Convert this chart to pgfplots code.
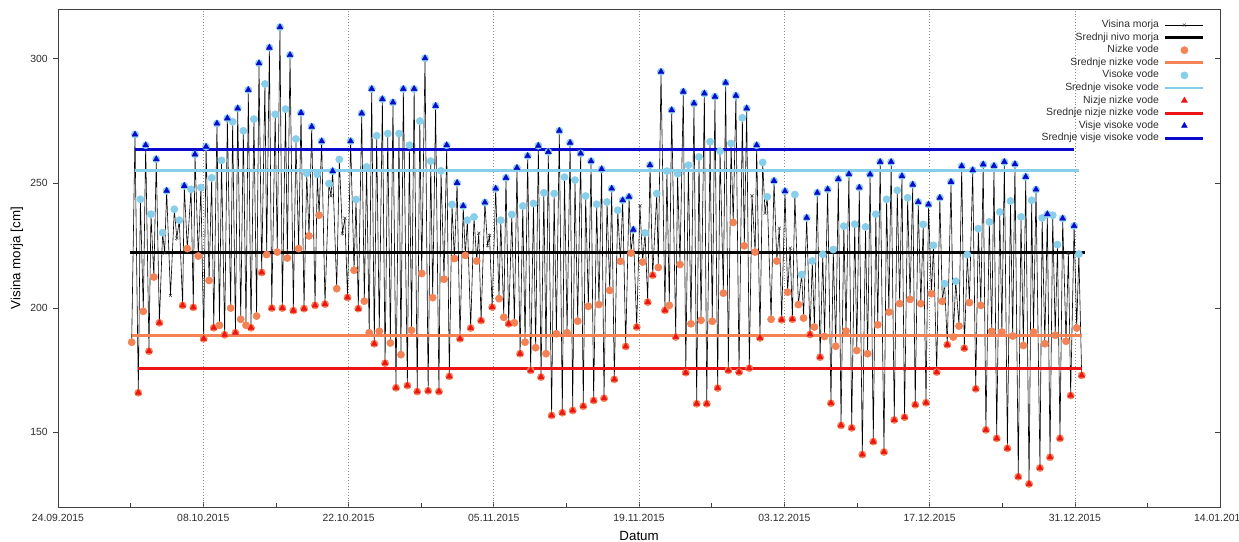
\documentclass[border=0pt]{standalone}
\usepackage{fontspec}
\setmainfont{Liberation Sans}
\usepackage{pgfplots}
\usepackage{pgfplotstable}
\pgfplotsset{compat=1.18}

\definecolor{nizke}{RGB}{243,130,85}
\definecolor{visoke}{RGB}{135,206,235}
\definecolor{nizje}{RGB}{236,20,20}
\definecolor{visje}{RGB}{10,10,205}
\definecolor{txt}{RGB}{45,45,45}
\newcommand{\fnt}{\fontsize{7.8}{9.4}\selectfont}

% Tidal extremes: t = days since 24.09.2015, h = height [cm],
% k = 1 higher high, 2 lower high, 3 higher low, 4 lower low, 0 unmarked turn
\pgfplotstableread{
t h k
7.10 186.2 3
7.42 269.6 1
7.74 165.9 4
7.94 243.6 2
8.22 198.6 3
8.45 265.3 1
8.77 182.6 4
8.96 237.6 2
9.24 212.4 3
9.47 259.7 1
9.77 194.0 4
10.08 230.2 2
10.28 222.0 0
10.47 247.0 1
10.84 205.0 0
11.21 239.6 2
11.45 228.0 0
11.69 235.2 2
12.01 201.0 4
12.17 249.0 1
12.46 223.8 3
12.82 247.6 2
13.04 200.2 4
13.20 261.6 1
13.52 220.8 3
13.77 248.3 2
14.04 187.6 4
14.27 264.7 1
14.56 211.0 3
14.81 252.2 2
15.01 192.0 4
15.32 274.0 1
15.56 193.0 3
15.76 259.2 2
16.06 189.2 4
16.32 276.1 1
16.64 199.9 3
16.83 274.7 2
17.10 190.0 4
17.32 280.1 1
17.61 195.4 3
17.86 271.1 2
18.12 193.0 3
18.34 287.5 1
18.60 192.0 4
18.88 275.8 2
19.14 196.7 3
19.37 298.2 1
19.63 214.2 4
19.94 289.9 2
20.11 221.4 3
20.37 304.5 1
20.60 199.9 4
20.93 277.7 2
21.13 222.4 3
21.39 312.7 1
21.62 199.9 4
21.93 279.8 2
22.10 220.0 3
22.36 301.5 1
22.68 198.9 4
22.93 267.8 2
23.19 223.8 3
23.42 278.3 1
23.71 199.7 4
23.97 254.0 2
24.19 228.9 3
24.45 272.7 1
24.77 201.0 4
24.99 253.6 2
25.16 237.2 3
25.41 266.9 1
25.73 201.5 4
26.11 249.9 2
26.31 245.0 0
26.47 254.9 1
26.86 207.7 3
27.11 259.6 2
27.41 230.0 0
27.65 236.0 0
27.90 204.2 4
28.20 266.9 1
28.53 215.1 3
28.72 243.5 2
28.94 199.7 4
29.27 278.1 1
29.52 202.7 3
29.74 256.6 2
29.99 190.0 3
30.23 287.9 1
30.48 185.6 4
30.71 269.1 2
30.96 190.6 3
31.26 283.8 1
31.52 177.8 4
31.78 270.0 2
32.03 185.9 3
32.28 282.5 1
32.57 167.9 4
32.86 270.0 2
33.05 181.2 3
33.28 287.9 1
33.67 168.8 4
33.86 265.3 2
34.07 191.0 3
34.32 287.9 1
34.62 166.4 4
34.87 275.0 2
35.05 213.8 3
35.37 300.2 1
35.67 166.7 4
35.92 258.9 2
36.11 204.1 3
36.39 281.1 1
36.71 166.4 4
36.91 255.0 2
37.20 211.5 3
37.46 265.3 1
37.71 172.5 4
37.97 241.5 2
38.20 219.8 3
38.46 250.2 1
38.74 187.6 4
39.05 240.9 1
39.25 221.1 3
39.45 235.2 2
39.77 191.9 4
40.09 236.5 2
40.35 218.8 3
40.55 230.0 0
40.77 194.9 4
41.14 242.3 1
41.39 225.0 0
41.59 229.0 0
41.84 200.3 4
42.18 247.9 1
42.50 203.7 3
42.67 235.2 2
42.96 196.2 3
43.17 252.2 1
43.43 193.6 4
43.73 237.5 2
43.98 194.0 3
44.23 256.2 1
44.53 181.6 4
44.79 240.9 2
45.01 186.2 3
45.26 261.0 1
45.55 174.9 4
45.82 241.9 2
46.03 184.0 3
46.29 265.1 1
46.55 172.2 4
46.82 246.2 2
47.03 181.6 3
47.25 262.6 1
47.57 156.8 4
47.81 245.9 2
48.03 189.6 3
48.31 271.1 1
48.60 157.9 4
48.81 252.5 2
49.06 190.0 3
49.35 266.3 1
49.60 158.8 4
49.82 251.3 2
50.08 194.7 3
50.37 262.0 1
50.62 160.5 4
50.85 244.9 2
51.11 200.6 3
51.37 258.9 1
51.62 162.8 4
51.91 241.6 2
52.13 201.3 3
52.39 255.7 1
52.62 163.7 4
52.91 242.5 2
53.17 207.0 3
53.36 247.9 1
53.61 171.3 4
53.94 239.2 2
54.20 218.7 3
54.42 243.2 1
54.71 184.5 4
55.03 244.6 1
55.22 222.0 3
55.44 231.4 1
55.77 192.3 4
56.08 241.0 0
56.34 218.4 3
56.57 230.1 2
56.83 202.3 4
57.05 257.3 1
57.31 213.1 4
57.70 245.9 2
57.85 216.2 3
58.11 294.8 1
58.49 199.0 4
58.68 254.9 2
58.91 201.0 3
59.14 279.4 1
59.53 188.3 4
59.71 253.9 2
59.94 217.4 3
60.26 286.8 1
60.50 174.0 4
60.75 257.3 2
61.00 193.6 3
61.29 282.1 1
61.55 161.5 4
61.77 260.6 2
61.97 195.0 3
62.29 286.1 1
62.52 161.5 4
62.84 266.7 2
63.05 194.6 3
63.31 284.8 1
63.57 167.8 4
63.80 262.9 2
64.12 205.9 3
64.34 290.4 1
64.60 174.9 4
64.86 266.0 2
65.07 234.3 3
65.33 285.2 1
65.63 174.2 4
65.95 276.3 2
66.14 224.9 3
66.37 280.1 1
66.62 175.8 4
66.88 245.0 0
67.18 222.4 3
67.33 265.3 1
67.65 187.9 4
67.91 258.4 2
68.14 238.0 0
68.35 244.6 2
68.72 195.4 3
69.00 251.0 1
69.27 218.8 3
69.51 232.0 0
69.74 195.2 4
70.06 246.8 1
70.31 206.3 3
70.56 224.0 0
70.77 195.4 4
71.01 245.5 2
71.35 201.3 3
71.67 213.4 2
71.85 195.9 3
72.15 236.2 1
72.47 189.3 4
72.69 218.8 2
72.89 192.3 3
73.17 246.2 1
73.44 180.2 4
73.70 221.5 2
73.87 188.5 3
74.17 247.6 1
74.49 161.7 4
74.71 223.4 2
74.95 184.6 3
75.20 251.7 1
75.46 152.8 4
75.73 232.8 2
75.94 190.7 3
76.22 253.7 1
76.49 151.8 4
76.78 233.6 2
76.98 182.9 3
77.22 248.3 1
77.51 141.1 4
77.82 232.5 2
78.02 181.6 3
78.26 253.6 1
78.57 146.3 4
78.81 237.6 2
79.00 193.2 3
79.23 258.6 1
79.60 142.1 4
79.85 243.6 2
80.07 198.3 3
80.29 258.6 1
80.59 155.0 4
80.88 247.2 2
81.11 201.7 3
81.33 252.9 1
81.58 156.1 4
81.88 244.2 2
82.11 203.4 3
82.37 249.5 1
82.61 161.1 4
82.90 242.5 1
83.15 201.7 3
83.38 233.5 2
83.65 161.9 4
83.89 241.5 1
84.17 205.7 3
84.37 225.1 2
84.68 174.2 4
84.98 244.2 1
85.22 202.6 3
85.44 209.7 2
85.70 185.2 4
86.06 250.6 1
86.28 188.3 3
86.51 210.7 2
86.83 192.7 3
87.09 256.9 1
87.34 183.8 4
87.63 221.4 2
87.83 202.1 3
88.15 255.3 1
88.44 167.5 4
88.69 231.8 2
88.93 201.0 3
89.16 257.6 1
89.42 151.0 4
89.75 234.5 2
89.98 190.6 3
90.20 257.0 1
90.46 147.6 4
90.76 238.5 2
90.96 190.3 3
91.20 258.6 1
91.49 143.6 4
91.79 242.9 2
92.00 188.7 3
92.22 257.7 1
92.54 132.2 4
92.80 236.5 2
93.03 184.9 3
93.26 252.6 1
93.58 129.3 4
93.83 243.2 2
94.01 190.3 3
94.25 247.5 1
94.63 135.7 4
94.84 236.1 2
95.10 185.6 3
95.34 237.6 1
95.60 140.0 4
95.86 237.2 2
96.10 189.0 3
96.32 225.4 2
96.56 147.6 4
96.82 235.9 1
97.14 186.6 3
97.37 222.0 0
97.59 164.8 4
97.92 232.9 1
98.17 191.9 3
98.38 221.6 2
98.65 172.9 4
}\tide

\pgfplotsset{
  lineleg/.style={legend image code/.code={\draw[##1] (0pt,0pt) -- (28.5pt,0pt);}},
  markleg/.style={legend image code/.code={\draw[##1] plot coordinates {(14.25pt,0pt)};}},
  seriesleg/.style={legend image code/.code={\draw[mark repeat=2, mark phase=2, ##1] plot coordinates {(0pt,0pt) (14.25pt,0pt) (28.5pt,0pt)};}},
  meanline/.style={line width=2.2pt, lineleg},
  frame/.style={at={(0,0)}, anchor=south west,
    scale only axis, width=871.7pt, height=373.6pt,
    xmin=0, xmax=112, ymin=120, ymax=320,
    xtick={0,14,...,112}, ytick={150,200,250,300}},
}

\begin{document}
\begin{tikzpicture}
% inward ticks on the bottom and right edges
\begin{axis}[frame,
  axis line style={draw=none},
  minor x tick num=1,
  xtick pos=bottom, ytick pos=right, tick align=inside,
  major tick length=3.75pt, minor tick length=3pt,
  tick style={black!75, line width=0.5pt},
  xticklabels={}, yticklabels={}]
\end{axis}
\begin{axis}[frame,
  axis line style={draw=black!75, line width=0.6pt},
  xticklabels={24.09.2015,08.10.2015,22.10.2015,05.11.2015,19.11.2015,03.12.2015,17.12.2015,31.12.2015,14.01.2016},
  tick align=outside, xtick pos=bottom, ytick pos=left,
  major tick length=3.5pt,
  tick style={black!75, line width=0.5pt},
  xtick style={draw=none},
  xmajorgrids,
  major x grid style={black!45, line width=0.5pt, dash pattern=on 0.6pt off 1.6pt},
  /pgf/number format/assume math mode=true,
  tick label style={font=\fnt, text=txt},
  xticklabel style={inner sep=0pt, anchor=north, yshift=-2pt},
  yticklabel style={inner sep=0pt, anchor=east, xshift=-4pt},
  xlabel={Datum}, ylabel={Visina morja [cm]},
  label style={font=\fnt, text=txt},
  every axis x label/.style={at={(axis description cs:0.5,-0.0578)}, anchor=center},
  every axis y label/.style={at={(axis description cs:-0.0353,0.5)}, rotate=90, anchor=center},
  legend cell align=right, legend plot pos=right,
  legend style={at={(rel axis cs:0.9868,0.978)}, anchor=north east,
    draw=none, fill=none, inner sep=0pt, outer sep=0pt,
    font=\fnt, text=txt, row sep=1.9pt, column sep=3.75pt,
    nodes={inner sep=0pt, text height=5.7pt, text depth=1.85pt}},
]
% observed sea level
\addplot[black, line width=0.45pt, mark=x, mark size=1.6pt,
  mark options={black!80, line width=0.35pt, solid}, seriesleg]
  table[x=t, y=h] {\tide};
\addlegendentry{Visina morja}
\addplot[black, meanline] coordinates {(6.9,222.3) (99.0,222.3)};
\addlegendentry{Srednji nivo morja}
% all low waters
\addplot[only marks, mark=*, mark size=2.7pt, nizke, mark options={fill=nizke, draw=nizke}, markleg,
  restrict expr to domain={\thisrow{k}}{3:4}] table[x=t, y=h] {\tide};
\addlegendentry{Nizke vode}
\addplot[nizke, meanline] coordinates {(7.10,188.8) (98.65,188.8)};
\addlegendentry{Srednje nizke vode}
% all high waters
\addplot[only marks, mark=*, mark size=2.7pt, visoke, mark options={fill=visoke, draw=visoke}, markleg,
  restrict expr to domain={\thisrow{k}}{1:2}] table[x=t, y=h] {\tide};
\addlegendentry{Visoke vode}
\addplot[visoke, meanline] coordinates {(7.42,255.1) (98.38,255.1)};
\addlegendentry{Srednje visoke vode}
% lower low waters
\addplot[only marks, mark=triangle*, mark size=2.5pt, nizje, mark options={fill=nizje, draw=nizje}, markleg,
  restrict expr to domain={\thisrow{k}}{4:4}] table[x=t, y=h] {\tide};
\addlegendentry{Nizje nizke vode}
\addplot[nizje, meanline] coordinates {(7.74,175.8) (98.65,175.8)};
\addlegendentry{Srednje nizje nizke vode}
% higher high waters
\addplot[only marks, mark=triangle*, mark size=2.5pt, visje, mark options={fill=visje, draw=visje}, markleg,
  restrict expr to domain={\thisrow{k}}{1:1}] table[x=t, y=h] {\tide};
\addlegendentry{Visje visoke vode}
\addplot[visje, meanline] coordinates {(7.42,263.7) (97.92,263.7)};
\addlegendentry{Srednje visje visoke vode}
\end{axis}
\pgfresetboundingbox
\path[use as bounding box] (-43.5pt,-26.1pt) rectangle (885.8pt,380.35pt);
\end{tikzpicture}
\end{document}
